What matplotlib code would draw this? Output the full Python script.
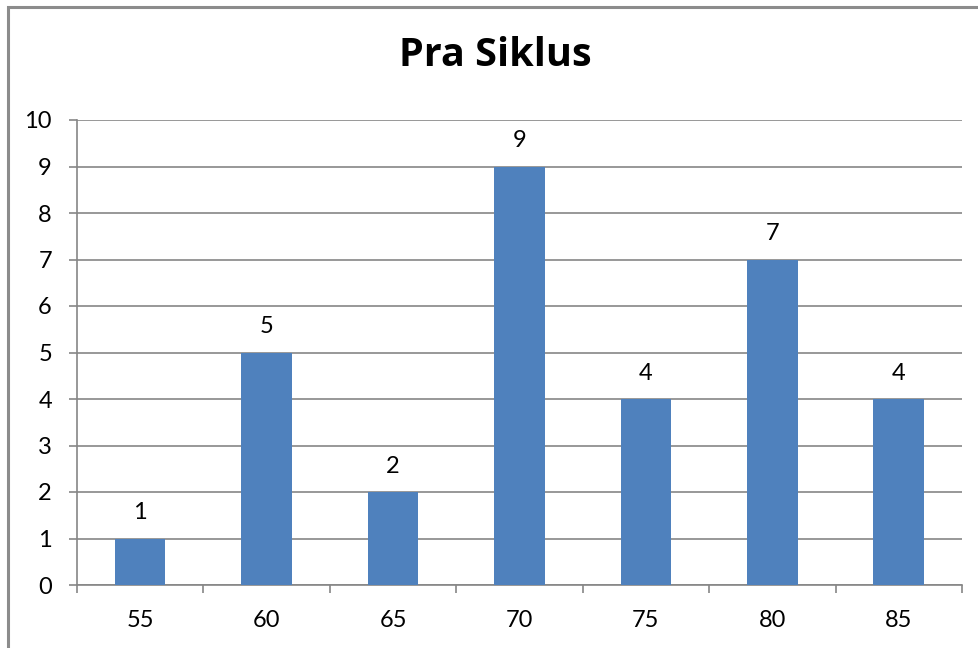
import matplotlib
matplotlib.use("Agg")
import matplotlib.pyplot as plt
from matplotlib.patches import Rectangle

categories = ["55", "60", "65", "70", "75", "80", "85"]
counts = [1, 5, 2, 9, 4, 7, 4]
title = "Pra Siklus"

W, H = 979, 648
plt.rcParams["font.family"] = ["Lato", "DejaVu Sans"]

fig = plt.figure(figsize=(W / 100, H / 100), dpi=100)
fig.patch.set_facecolor("white")

# outer chart frame (continues past the right and bottom edges)
fig.add_artist(Rectangle((8 / W, -0.05), 1.2, 1 - 7 / H + 0.05,
                         transform=fig.transFigure, fill=False,
                         edgecolor="#8c8c8c", linewidth=2.2))

ax = fig.add_axes([77 / W, 1 - 585 / H, (962 - 77) / W, (585 - 120) / H])
grid_c = "#868686"
fs = 17
x = range(len(categories))
ax.bar(x, counts, width=0.4, color="#4F81BD", zorder=3)
for xi, v in zip(x, counts):
    ax.annotate(str(v), (xi, v), xytext=(0, 18.4), textcoords="offset points",
                ha="center", va="center", fontsize=fs, color="black")

ax.set_xlim(-0.5, len(categories) - 0.5)
ax.set_ylim(0, 10)
ax.set_yticks(range(0, 11))
ax.yaxis.grid(True, color=grid_c, linewidth=1.2, zorder=0)
ax.set_xticks(list(x))
ax.set_xticklabels(categories)
ax.set_xticks([i - 0.5 for i in range(len(categories) + 1)], minor=True)
ax.tick_params(axis="x", which="major", length=0, pad=18, labelsize=fs)
ax.tick_params(axis="x", which="minor", length=5.8, width=1.2, color=grid_c)
ax.tick_params(axis="y", length=5.8, width=1.2, color=grid_c, pad=12.2,
               labelsize=fs)
for s in ["top", "right"]:
    ax.spines[s].set_visible(False)
for s in ["left", "bottom"]:
    ax.spines[s].set_color(grid_c)
    ax.spines[s].set_linewidth(1.2)

fig.text(495 / W, 1 - 56 / H, title, ha="center", va="center",
         fontsize=28.5, fontweight="bold", family=["Open Sans", "DejaVu Sans"])

fig.savefig("out.png", dpi=100)
